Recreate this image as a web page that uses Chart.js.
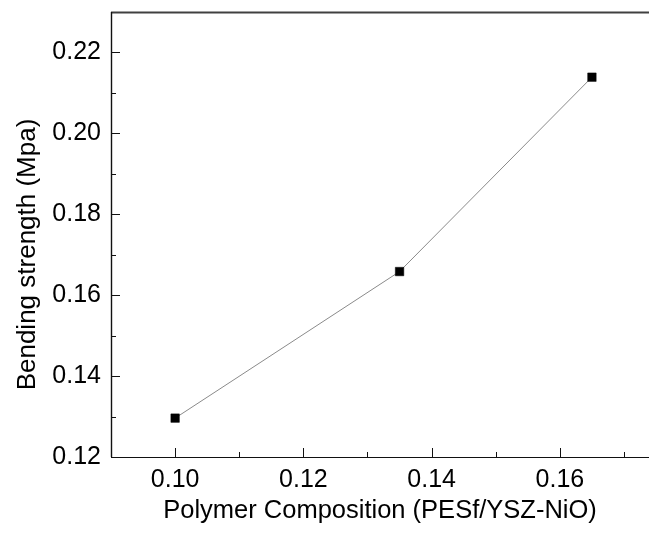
<!DOCTYPE html>
<html>
<head>
<meta charset="utf-8">
<script src="https://cdn.jsdelivr.net/npm/chart.js@4/dist/chart.umd.min.js"></script>
<style>
  html, body { margin: 0; padding: 0; background: #fff; }
  #wrap { width: 649px; height: 536px; position: relative; }
</style>
</head>
<body>
<div id="wrap"><canvas id="c"></canvas></div>
<script>
// Data
const composition = [0.100, 0.135, 0.165];
const bendingStrength = [0.1296, 0.1658, 0.2138];
const xTickValues = [0.10, 0.12, 0.14, 0.16];
const xMinorValues = [0.11, 0.13, 0.15, 0.17];
const yTickValues = [0.12, 0.14, 0.16, 0.18, 0.20, 0.22];
const yMinorValues = [0.13, 0.15, 0.17, 0.19, 0.21];
const xTitle = 'Polymer Composition (PESf/YSZ-NiO)';
const yTitle = 'Bending strength (Mpa)';

const FONT = "'Liberation Sans', Arial, sans-serif";

const axesPlugin = {
  id: 'originAxes',
  afterDraw(chart) {
    const ctx = chart.ctx;
    const a = chart.chartArea;
    const xs = chart.scales.x, ys = chart.scales.y;
    ctx.save();
    // top frame line
    ctx.strokeStyle = '#404040';
    ctx.lineWidth = 2;
    ctx.beginPath();
    ctx.moveTo(a.left, a.top + 0.5);
    ctx.lineTo(chart.width, a.top + 0.5);
    ctx.stroke();
    // left axis
    ctx.strokeStyle = '#111';
    ctx.lineWidth = 1.4;
    ctx.beginPath();
    ctx.moveTo(a.left + 0.5, a.top);
    ctx.lineTo(a.left + 0.5, a.bottom);
    ctx.stroke();
    // bottom axis
    ctx.lineWidth = 1.2;
    ctx.beginPath();
    ctx.moveTo(a.left, a.bottom + 0.5);
    ctx.lineTo(chart.width, a.bottom + 0.5);
    ctx.stroke();
    // ticks (inward)
    ctx.lineWidth = 1;
    ctx.beginPath();
    xTickValues.forEach(v => { const p = Math.round(xs.getPixelForValue(v)) + 0.5; ctx.moveTo(p, a.bottom); ctx.lineTo(p, a.bottom - 9); });
    xMinorValues.forEach(v => { const p = Math.round(xs.getPixelForValue(v)) + 0.5; ctx.moveTo(p, a.bottom); ctx.lineTo(p, a.bottom - 5); });
    yTickValues.forEach(v => { const p = Math.round(ys.getPixelForValue(v)) + 0.5; ctx.moveTo(a.left, p); ctx.lineTo(a.left + 9, p); });
    yMinorValues.forEach(v => { const p = Math.round(ys.getPixelForValue(v)) + 0.5; ctx.moveTo(a.left, p); ctx.lineTo(a.left + 5, p); });
    ctx.stroke();
    // y-axis title (positioned as in the reference, slightly below the axis centre)
    ctx.fillStyle = '#000';
    ctx.font = '26px ' + FONT;
    ctx.textAlign = 'center';
    ctx.textBaseline = 'alphabetic';
    ctx.translate(35, (a.top + a.bottom) / 2 + 20);
    ctx.rotate(-Math.PI / 2);
    ctx.fillText(yTitle, 0, 0);
    ctx.restore();
  }
};

new Chart(document.getElementById('c'), {
  type: 'line',
  data: {
    datasets: [{
      data: composition.map((x, i) => ({ x: x, y: bendingStrength[i] })),
      borderColor: '#8a8a8a',
      borderWidth: 1,
      pointStyle: 'rect',
      pointRadius: 6,
      pointBackgroundColor: '#000',
      pointBorderColor: '#000',
      pointBorderWidth: 0.5,
      tension: 0,
      clip: false
    }]
  },
  options: {
    responsive: true,
    maintainAspectRatio: false,
    animation: false,
    events: [],
    layout: { padding: 0, autoPadding: false },
    plugins: { legend: { display: false }, tooltip: { enabled: false } },
    scales: {
      x: {
        type: 'linear',
        min: 0.09,
        max: 0.1739,
        grid: { display: false, drawTicks: false },
        border: { display: false },
        afterBuildTicks: s => { s.ticks = xTickValues.map(v => ({ value: v })); },
        afterFit: s => { s.height = 79; s.paddingLeft = 0; s.paddingRight = 0; },
        ticks: {
          color: '#000',
          font: { family: FONT, size: 25 },
          padding: 8,
          maxRotation: 0,
          callback: v => Number(v).toFixed(2)
        },
        title: {
          display: true,
          text: xTitle,
          color: '#000',
          font: { family: FONT, size: 25.5 },
          padding: { top: 4, bottom: 10 }
        }
      },
      y: {
        type: 'linear',
        min: 0.12,
        max: 0.2299,
        grid: { display: false, drawTicks: false },
        border: { display: false },
        afterBuildTicks: s => { s.ticks = yTickValues.map(v => ({ value: v })); },
        afterFit: s => { s.width = 111; s.paddingTop = 12; s.paddingBottom = 0; },
        ticks: {
          color: '#000',
          font: { family: FONT, size: 25 },
          padding: 10,
          callback: v => Number(v).toFixed(2)
        },
        title: { display: false }
      }
    }
  },
  plugins: [axesPlugin]
});
</script>
</body>
</html>
